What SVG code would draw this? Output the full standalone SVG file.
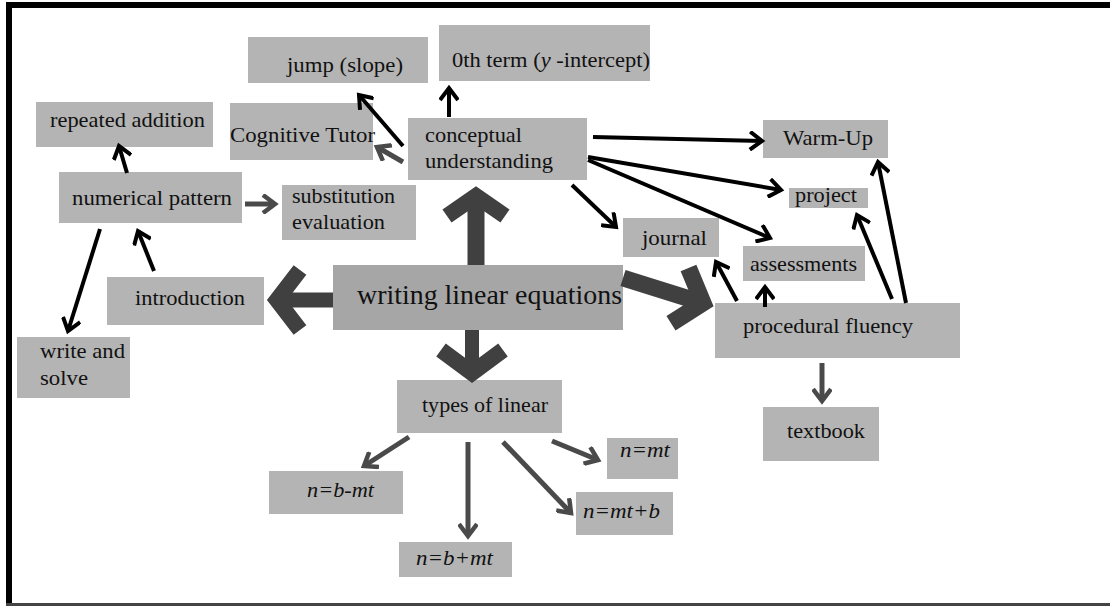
<svg xmlns="http://www.w3.org/2000/svg" width="1110" height="606" viewBox="0 0 1110 606">
<style>
.box{fill:#b4b4b4}
.main{fill:#a6a6a6}
text{font-family:"Liberation Serif","Times New Roman",serif;font-size:22px;fill:#111}
.it{font-style:italic}
.big{font-size:28px}
.blk{stroke:#000;stroke-width:4;fill:none}
.gry{stroke:#4a4a4a;stroke-width:5;fill:none}
.thick{stroke:#404040;fill:none;stroke-linejoin:miter;stroke-linecap:butt}
</style>
<defs>
<marker id="ab" markerUnits="userSpaceOnUse" markerWidth="18" markerHeight="20" viewBox="0 0 18 20" refX="14" refY="10" orient="auto">
<path d="M2,1 L14,10 L2,19" fill="none" stroke="#000" stroke-width="4"/>
</marker>
<marker id="ag" markerUnits="userSpaceOnUse" markerWidth="18" markerHeight="20" viewBox="0 0 18 20" refX="14" refY="10" orient="auto">
<path d="M2,1 L14,10 L2,19" fill="none" stroke="#4a4a4a" stroke-width="4.5"/>
</marker>
</defs>
<rect width="1110" height="606" fill="#fff"/>
<g id="frame">
<rect x="6" y="2" width="1104" height="6" fill="#000"/>
<rect x="6" y="2" width="6" height="604" fill="#000"/>
<rect x="6" y="603" width="1104" height="3" fill="#444"/>
</g>
<g id="n-jump"><rect class="box" x="248" y="37" width="180" height="46"/><text x="287" y="72" textLength="116" lengthAdjust="spacingAndGlyphs">jump (slope)</text></g>
<g id="n-zero"><rect class="box" x="439" y="25" width="211" height="56"/><text x="452" y="67" textLength="198" lengthAdjust="spacingAndGlyphs">0th term (<tspan class="it">y</tspan> -intercept)</text></g>
<g id="n-repeated"><rect class="box" x="36" y="102" width="177" height="45"/><text x="50" y="127" textLength="155" lengthAdjust="spacingAndGlyphs">repeated addition</text></g>
<g id="n-cognitive"><rect class="box" x="230" y="103" width="143" height="57"/><text x="230" y="142" textLength="145" lengthAdjust="spacingAndGlyphs">Cognitive Tutor</text></g>
<g id="n-conceptual"><rect class="box" x="408" y="118" width="179" height="62"/><text x="425" y="142" textLength="97" lengthAdjust="spacingAndGlyphs">conceptual</text><text x="425" y="168" textLength="128" lengthAdjust="spacingAndGlyphs">understanding</text></g>
<g id="n-warmup"><rect class="box" x="763" y="120" width="125" height="38"/><text x="783" y="145" textLength="90" lengthAdjust="spacingAndGlyphs">Warm-Up</text></g>
<g id="n-numerical"><rect class="box" x="59" y="172" width="183" height="51"/><text x="72" y="205" textLength="160" lengthAdjust="spacingAndGlyphs">numerical pattern</text></g>
<g id="n-substitution"><rect class="box" x="282" y="185" width="134" height="55"/><text x="292" y="203" textLength="103" lengthAdjust="spacingAndGlyphs">substitution</text><text x="292" y="229" textLength="93" lengthAdjust="spacingAndGlyphs">evaluation</text></g>
<g id="n-project"><rect class="box" x="789" y="188" width="79" height="20"/><text x="795" y="202" textLength="62" lengthAdjust="spacingAndGlyphs">project</text></g>
<g id="n-journal"><rect class="box" x="623" y="218" width="96" height="39"/><text x="642" y="245" textLength="65" lengthAdjust="spacingAndGlyphs">journal</text></g>
<g id="n-assessments"><rect class="box" x="743" y="246" width="122" height="35"/><text x="750" y="271" textLength="107" lengthAdjust="spacingAndGlyphs">assessments</text></g>
<g id="n-writing"><rect class="main" x="333" y="265" width="290" height="65"/><text class="big" x="357" y="304" textLength="265" lengthAdjust="spacingAndGlyphs">writing linear equations</text></g>
<g id="n-introduction"><rect class="box" x="107" y="277" width="157" height="48"/><text x="135" y="305" textLength="110" lengthAdjust="spacingAndGlyphs">introduction</text></g>
<g id="n-procedural"><rect class="box" x="715" y="303" width="245" height="55"/><text x="743" y="333" textLength="170" lengthAdjust="spacingAndGlyphs">procedural fluency</text></g>
<g id="n-write"><rect class="box" x="17" y="337" width="113" height="61"/><text x="40" y="358" textLength="85" lengthAdjust="spacingAndGlyphs">write and</text><text x="40" y="385" textLength="48" lengthAdjust="spacingAndGlyphs">solve</text></g>
<g id="n-types"><rect class="box" x="397" y="380" width="165" height="53"/><text x="422" y="412" textLength="126" lengthAdjust="spacingAndGlyphs">types of linear</text></g>
<g id="n-mt"><rect class="box" x="607" y="438" width="71" height="41"/><text class="it" x="620" y="457" textLength="50" lengthAdjust="spacingAndGlyphs">n=mt</text></g>
<g id="n-bminus"><rect class="box" x="269" y="471" width="134" height="43"/><text class="it" x="307" y="497" textLength="67" lengthAdjust="spacingAndGlyphs">n=b-mt</text></g>
<g id="n-mtb"><rect class="box" x="576" y="492" width="97" height="43"/><text class="it" x="583" y="518" textLength="77" lengthAdjust="spacingAndGlyphs">n=mt+b</text></g>
<g id="n-bplus"><rect class="box" x="399" y="542" width="113" height="35"/><text class="it" x="416" y="565" textLength="77" lengthAdjust="spacingAndGlyphs">n=b+mt</text></g>
<g id="n-textbook"><rect class="box" x="763" y="407" width="116" height="54"/><text x="787" y="438" textLength="78" lengthAdjust="spacingAndGlyphs">textbook</text></g>
<g id="connectors">
<path class="thick" stroke-width="17" d="M476,265 L476,200"/>
<path class="thick" stroke-width="16" d="M447,216 L476,196 L505,216"/>
<path class="thick" stroke-width="15" d="M333,300 L285,300"/>
<path class="thick" stroke-width="16" d="M300,270 L277,300 L300,330"/>
<path class="thick" stroke-width="14" d="M472,330 L472,370"/>
<path class="thick" stroke-width="16" d="M441,350 L472,373 L503,350"/>
<path class="thick" stroke-width="17" d="M623,278 L698,301.5"/>
<path class="thick" stroke-width="17" d="M688.5,268 L703,303 L671,323.3"/>
<path class="blk" marker-end="url(#ab)" d="M403,146 L359,95"/>
<path class="blk" marker-end="url(#ab)" d="M449,117 L449,88"/>
<path class="gry" marker-end="url(#ag)" d="M403,162 L377,147"/>
<path class="blk" marker-end="url(#ab)" d="M593,137 L762,141"/>
<path class="blk" marker-end="url(#ab)" d="M588,157 L781,190"/>
<path class="blk" marker-end="url(#ab)" d="M588,160 L770,238"/>
<path class="blk" marker-end="url(#ab)" d="M572,185 L616,227"/>
<path class="blk" marker-end="url(#ab)" d="M737,301 L716,262"/>
<path class="blk" marker-end="url(#ab)" d="M765,307 L765,287"/>
<path class="blk" marker-end="url(#ab)" d="M892,299 L857,215"/>
<path class="blk" marker-end="url(#ab)" d="M906,303 L878,162"/>
<path class="gry" marker-end="url(#ag)" d="M822,363 L822,401"/>
<path class="blk" marker-end="url(#ab)" d="M127,173 L119,146"/>
<path class="gry" marker-end="url(#ag)" d="M245,204 L275,204"/>
<path class="blk" marker-end="url(#ab)" d="M154,271 L138,231"/>
<path class="blk" marker-end="url(#ab)" d="M100,229 L68,331"/>
<path class="gry" marker-end="url(#ag)" d="M409,437 L364,466"/>
<path class="gry" marker-end="url(#ag)" d="M468,442 L468,536"/>
<path class="gry" marker-end="url(#ag)" d="M503,442 L571,513"/>
<path class="gry" marker-end="url(#ag)" d="M552,441 L598,460"/>
</g>
</svg>
